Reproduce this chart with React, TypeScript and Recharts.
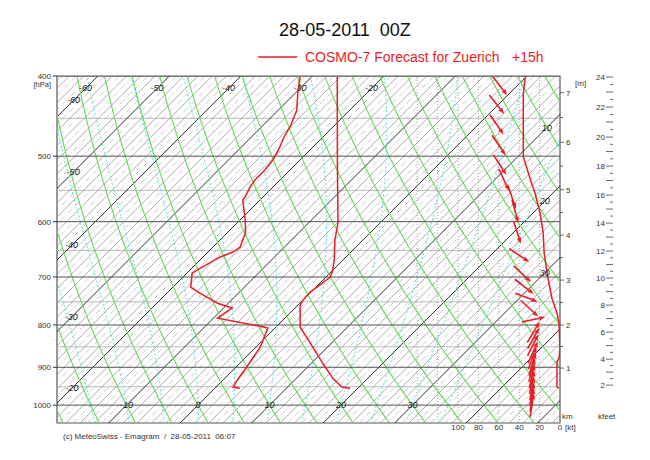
import React from 'react'
import { ComposedChart, Line, Scatter, XAxis, YAxis, ReferenceArea } from 'recharts'

const FONT = '"Liberation Sans", Arial, Helvetica, sans-serif'
const RED = '#ec1c24'

// ---- profiles ----
const tempP = [401, 505, 602, 632, 668, 687, 700, 730, 746, 757, 805, 841, 890, 928, 951, 954]
const tempC = [-26.4, -14.8, -5.9, -3.9, -1.2, 0.0, 0.6, -0.1, 0.0, 0.3, 3.4, 7.0, 11.6, 15.1, 17.6, 18.9]

const dewP = [401, 420, 440, 461, 475, 488, 505, 520, 534, 545, 560, 565, 597, 618, 644, 653, 662, 692, 720, 732, 753, 763, 785, 805, 807, 851, 900, 933, 951, 954]
const dewC = [-31.6, -29.6, -27.4, -26.0, -25.4, -24.6, -23.8, -23.5, -23.5, -23.2, -22.5, -22.4, -19.3, -17.5, -16.2, -16.5, -17.6, -19.3, -17.5, -15.4, -11.5, -8.8, -9.4, -1.5, -1.0, 0.6, 1.5, 2.0, 2.4, 3.5]

// right-hand profile on the [kt] scale
const speedP = [401, 420, 461, 501, 510, 534, 554, 586, 619, 655, 700, 742, 774, 796, 858, 877, 887, 951, 953]
const speedKt = [34, 36, 36, 36, 34, 29, 24.5, 19.5, 16.5, 15.5, 12, 8, 3, 1, 0, 1, 3, 3, 1]

// wind arrows: level, position on kt scale, direction wind blows from
const windP = [411, 433, 458, 485, 512, 534, 561, 583, 618, 659, 694, 719, 741, 764, 788, 816, 830, 846, 863, 877, 892, 907, 922, 938, 954, 970, 985, 1000]
const windKt = [59, 62, 62, 60, 59, 55, 47, 44, 42, 40, 37, 35, 33, 30, 26, 26, 26, 26.5, 26.5, 27, 27, 27.5, 27.5, 27.5, 27.5, 27.5, 27.5, 27.5]
const windDir = [322, 322, 325, 326, 327, 335, 341, 345, 342, 304, 313, 308, 291, 313, 258, 211, 209, 207, 204, 200, 197, 195, 193, 192, 190, 190, 189, 189]

// ---- diagram furniture ----
const pressureMajor = [400, 500, 600, 700, 800, 900, 1000]
const pressureMinor = [450, 550, 650, 750, 850, 950]
const ktTicks = [0, 20, 40, 60, 80, 100]
const ktGrid = [20, 40, 60, 80, 100, 120, 140]
const kmLabels = [1, 2, 3, 4, 5, 6, 7]
const kmP = [902, 800, 706, 623, 549, 481, 419]
const kftLabels = [2, 4, 6, 8, 10, 12, 14, 16, 18, 20, 22, 24]
const kftP = [945.8, 879.8, 816, 756.9, 702.1, 651.2, 602.4, 557.2, 514, 474.1, 436.1, 401.1]
const thetaC = [-30, -25, -20, -15, -10, -5, 0, 5, 10, 15, 20, 25, 30, 35, 40, 45, 50, 55, 60, 65, 70, 75, 80, 85, 90]
const thetaW = [-15, -10, -5, 0, 5, 10, 15, 20, 25, 30, 35]
const isoLabelT = [-60, -50, -40, -30, -20, -60, -50, -40, -30, -20, -10, 0, 10, 20, 30, 10, 20, 30]
const isoLabelP = [428, 523, 641, 783, 954, 414, 414, 414, 414, 414, 1000, 1000, 1000, 1000, 1000, 462, 567, 692]

const P_TOP = 400
const P_BOT = 1051
const SKEW = 50.2
const X_MIN = -19.72
const X_MAX = 50.63
const KT_MAX = 493.1

type Pt = { x: number; y: number | null }
const lp = (p: number) => Math.log(1000 / p)
const sx = (t: number, p: number) => t + SKEW * lp(p)

const join = (segs: Pt[][]) => {
  const out: Pt[] = []
  segs.forEach(s => {
    out.push(...s)
    out.push({ x: s[s.length - 1].x, y: null })
  })
  return out
}

const isotherm = (t: number): Pt[] => [
  { x: sx(t, P_BOT), y: lp(P_BOT) },
  { x: sx(t, P_TOP), y: lp(P_TOP) },
]
const range = (a: number, b: number) => Array.from({ length: b - a + 1 }, (_, i) => a + i)
const allT = range(-70, 56)
const isoMajor = join(allT.filter(t => t % 10 === 0).map(isotherm))
const isoMinor = join(allT.filter(t => t % 2 === 0 && t % 10 !== 0).map(isotherm))
const isoOdd = join(allT.filter(t => Math.abs(t % 2) === 1).map(isotherm))

const hLine = (p: number): Pt[] => [{ x: X_MIN, y: lp(p) }, { x: X_MAX, y: lp(p) }]
const presMajor = join(pressureMajor.map(hLine))
const presMinor = join(pressureMinor.map(hLine))

const ktLines = join(ktGrid.map(k => [{ x: k, y: lp(P_BOT) }, { x: k, y: lp(P_TOP) }]))

const dryLines = join(
  thetaC.map(th => {
    const pts: Pt[] = []
    for (let p = P_BOT; p >= P_TOP; p -= 15) {
      const t = (th + 273.15) * Math.pow(p / 1000, 0.2857) - 273.15
      pts.push({ x: sx(t, p), y: lp(p) })
    }
    const t = (th + 273.15) * Math.pow(P_TOP / 1000, 0.2857) - 273.15
    pts.push({ x: sx(t, P_TOP), y: lp(P_TOP) })
    return pts
  })
)

const dTdp = (T: number, p: number) => {
  const tc = T - 273.15
  const es = 6.112 * Math.exp((17.67 * tc) / (tc + 243.5))
  const rs = (0.622 * es) / (p - es)
  return (287 * T + 2.5e6 * rs) / (p * (1005 + (2.5e6 * 2.5e6 * rs * 0.622) / (287 * T * T)))
}
const moistLines = join(
  thetaW.map(tw => {
    let T = tw + 273.15
    let p = 1000
    while (p < P_BOT) {
      const dp = Math.min(2, P_BOT - p)
      const k1 = dTdp(T, p)
      const k2 = dTdp(T + k1 * dp, p + dp)
      T += 0.5 * (k1 + k2) * dp
      p += dp
    }
    const pts: Pt[] = [{ x: sx(T - 273.15, p), y: lp(p) }]
    let i = 0
    while (p > P_TOP) {
      const dp = -Math.min(2, p - P_TOP)
      const k1 = dTdp(T, p)
      const k2 = dTdp(T + k1 * dp, p + dp)
      T += 0.5 * (k1 + k2) * dp
      p += dp
      i++
      if (i % 4 === 0 || p <= P_TOP) pts.push({ x: sx(T - 273.15, p), y: lp(p) })
    }
    return pts
  })
)

const tempData = tempP.map((p, i) => ({ x: sx(tempC[i], p), y: lp(p) }))
const dewData = dewP.map((p, i) => ({ x: sx(dewC[i], p), y: lp(p) }))
const speedData = speedP.map((p, i) => ({ x: speedKt[i], y: lp(p) }))
const windData = windP.map((p, i) => ({ x: windKt[i], y: lp(p), dir: windDir[i] }))
const isoLabelData = isoLabelT.map((t, i) => ({ x: sx(t, isoLabelP[i]), y: lp(isoLabelP[i]), t }))

const kmTicks = [
  ...kmP.map((p, i) => ({ v: lp(p), label: String(kmLabels[i]), major: true })),
  ...kmP.slice(0, -1).map((p, i) => ({ v: (lp(p) + lp(kmP[i + 1])) / 2, label: '', major: false })),
]
const kftTicks: { v: number; label: string; size: number }[] = []
for (let k = kftLabels[0]; k <= kftLabels[kftLabels.length - 1]; k += 0.5) {
  const i = Math.min(Math.floor((k - kftLabels[0]) / 2), kftLabels.length - 2)
  const f = (k - kftLabels[i]) / 2
  const v = lp(kftP[i]) + f * (lp(kftP[i + 1]) - lp(kftP[i]))
  kftTicks.push({ v, label: k % 2 === 0 ? String(k) : '', size: k % 1 === 0 ? 7 : 3 })
}

const findTick = <T extends { v: number }>(list: T[], v: number) => list.find(t => Math.abs(t.v - v) < 1e-6)

function PressureTick({ x, y, payload }: any) {
  const p = Math.round(1000 / Math.exp(payload.value))
  return (
    <g fontFamily={FONT} fill="#333">
      <text x={x} y={y} dy={3} textAnchor="end" fontSize={8}>{p}</text>
      {p === 400 && <text x={x} y={y} dy={11} textAnchor="end" fontSize={7.5}>[hPa]</text>}
    </g>
  )
}

function KmTick({ x, y, payload }: any) {
  const t = findTick(kmTicks, payload.value)
  if (!t) return null
  return (
    <g fontFamily={FONT} fill="#333">
      <line x1={x} x2={x + (t.major ? 4 : 3)} y1={y} y2={y} stroke="#444" strokeWidth={0.8} />
      {t.label && <text x={x + 6} y={y} dy={3} fontSize={8}>{t.label}</text>}
    </g>
  )
}

function KftTick({ x, y, payload }: any) {
  const t = findTick(kftTicks, payload.value)
  if (!t) return null
  return (
    <g fontFamily={FONT} fill="#333">
      <line x1={x + 7 - t.size} x2={x + 7} y1={y} y2={y} stroke="#444" strokeWidth={0.8} />
      {t.label && <text x={x - 1} y={y} dy={3} textAnchor="end" fontSize={8}>{t.label}</text>}
    </g>
  )
}

function KtTick({ x, y, payload }: any) {
  return (
    <g fontFamily={FONT} fill="#333" fontSize={8}>
      <text x={x} y={y} dy={7} textAnchor="middle">{payload.value}</text>
      {payload.value === 0 && <text x={x + 5} y={y} dy={7}>[kt]</text>}
    </g>
  )
}

function WindArrow({ cx, cy, payload }: any) {
  const to = ((payload.dir + 180) * Math.PI) / 180
  const len = 24
  const ux = Math.sin(to)
  const uy = -Math.cos(to)
  const x1 = cx - (ux * len) / 2
  const y1 = cy - (uy * len) / 2
  const x2 = cx + (ux * len) / 2
  const y2 = cy + (uy * len) / 2
  const hx = x2 - ux * 6
  const hy = y2 - uy * 6
  return (
    <g>
      <line x1={x1} y1={y1} x2={hx} y2={hy} stroke={RED} strokeWidth={1.6} />
      <polygon points={`${x2},${y2} ${hx - uy * 2.2},${hy + ux * 2.2} ${hx + uy * 2.2},${hy - ux * 2.2}`} fill={RED} />
    </g>
  )
}

function IsoLabel({ cx, cy, payload }: any) {
  return (
    <text x={cx} y={cy} dy={3} textAnchor="middle" fontSize={9} fontStyle="italic" fill="#222" fontFamily={FONT}>
      {payload.t}
    </text>
  )
}

const common = { xAxisId: 't', yAxisId: 'p', dataKey: 'y', dot: false, activeDot: false, isAnimationActive: false, connectNulls: false } as const

export default function App() {
  const overlay: React.CSSProperties = { position: 'absolute', fontFamily: FONT, whiteSpace: 'pre', lineHeight: 1 }
  return (
    <div style={{ position: 'absolute', left: 0, top: 0, width: 650, height: 460, background: '#fff' }}>
      <div style={{ ...overlay, left: 0, width: 690, top: 21, fontSize: 18, color: '#111', textAlign: 'center' }}>28-05-2011  00Z</div>
      <svg style={{ position: 'absolute', left: 0, top: 0 }} width={650} height={70}>
        <line x1={258} x2={297} y1={57} y2={57} stroke={RED} strokeWidth={1.3} />
      </svg>
      <div style={{ ...overlay, left: 305, top: 50, fontSize: 14, color: RED }}>COSMO-7 Forecast for Zuerich</div>
      <div style={{ ...overlay, left: 512, top: 50, fontSize: 14, color: RED }}>+15h</div>
      <div style={{ ...overlay, left: 63, top: 433, fontSize: 8, color: '#333' }}>(c) MeteoSwiss - Emagram  /  28-05-2011  06:07</div>
      <div style={{ ...overlay, left: 575, top: 80, fontSize: 8, color: '#333' }}>[m]</div>
      <div style={{ ...overlay, left: 562, top: 413, fontSize: 8, color: '#333' }}>km</div>
      <div style={{ ...overlay, left: 598, top: 413, fontSize: 8, color: '#333' }}>kfeet</div>
      <div style={{ position: 'absolute', left: 0, top: 0 }}>
        <ComposedChart width={650} height={460} margin={{ top: 76, right: 0, bottom: 17, left: 17 }}>
          <XAxis xAxisId="t" type="number" dataKey="x" domain={[X_MIN, X_MAX]} allowDataOverflow hide />
          <XAxis
            xAxisId="kt"
            type="number"
            dataKey="x"
            domain={[0, KT_MAX]}
            reversed
            allowDataOverflow
            ticks={ktTicks}
            interval={0}
            tick={<KtTick />}
            tickSize={0}
            tickMargin={0}
            axisLine={false}
            tickLine={false}
            height={20}
          />
          <YAxis
            yAxisId="p"
            type="number"
            dataKey="y"
            domain={[lp(P_BOT), lp(P_TOP)]}
            allowDataOverflow
            ticks={pressureMajor.map(lp)}
            interval={0}
            tick={<PressureTick />}
            tickSize={4}
            tickMargin={2}
            tickLine={{ stroke: '#333' }}
            axisLine={false}
            width={40}
          />
          <YAxis
            yAxisId="r1km"
            orientation="right"
            type="number"
            domain={[lp(P_BOT), lp(P_TOP)]}
            allowDataOverflow
            ticks={kmTicks.map(t => t.v)}
            interval={0}
            tick={<KmTick />}
            tickSize={0}
            tickMargin={0}
            tickLine={false}
            axisLine={false}
            width={46}
          />
          <YAxis
            yAxisId="r2kft"
            orientation="right"
            type="number"
            domain={[lp(P_BOT), lp(P_TOP)]}
            allowDataOverflow
            ticks={kftTicks.map(t => t.v)}
            interval={0}
            tick={<KftTick />}
            tickSize={0}
            tickMargin={0}
            tickLine={false}
            axisLine={false}
            width={44}
          />

          <Line {...common} data={presMinor} stroke="#bdbdbd" strokeWidth={1} />
          <Line {...common} data={isoOdd} stroke="#a6a6a6" strokeWidth={0.6} strokeDasharray="6 2 1 2" />
          <Line {...common} data={isoMinor} stroke="#8a8a8a" strokeWidth={0.7} />
          <Line {...common} data={isoMajor} stroke="#2a2a2a" strokeWidth={1} />
          <Line {...common} data={moistLines} stroke="#5fe0ea" strokeWidth={1} strokeDasharray="2 2" />
          <Line {...common} data={dryLines} stroke="#66d957" strokeWidth={1.1} />
          <Line {...common} xAxisId="kt" data={ktLines} stroke="#999" strokeWidth={0.8} strokeDasharray="1 2" />
          <Line {...common} data={presMajor} stroke="#555" strokeWidth={1} />
          <ReferenceArea xAxisId="t" yAxisId="p" x1={X_MIN} x2={X_MAX} y1={lp(P_BOT)} y2={lp(P_TOP)} fill="none" stroke="#555" strokeWidth={1.2} ifOverflow="visible" />

          <Scatter xAxisId="t" yAxisId="p" data={isoLabelData} shape={<IsoLabel />} isAnimationActive={false} />

          <Line {...common} data={dewData} stroke={RED} strokeWidth={1.5} />
          <Line {...common} data={tempData} stroke={RED} strokeWidth={1.5} />
          <Line {...common} xAxisId="kt" data={speedData} stroke={RED} strokeWidth={1.5} />
          <Scatter xAxisId="kt" yAxisId="p" data={windData} shape={<WindArrow />} isAnimationActive={false} />
        </ComposedChart>
      </div>
    </div>
  )
}
